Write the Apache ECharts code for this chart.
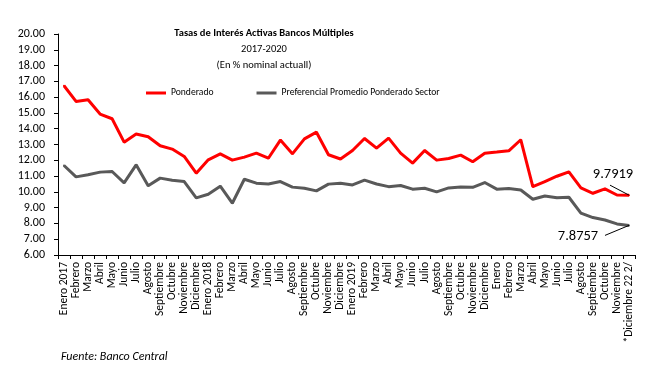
<!DOCTYPE html>
<html>
<head>
<meta charset="utf-8">
<script src="https://cdn.jsdelivr.net/npm/echarts@6/dist/echarts.min.js"></script>
<style>html,body{margin:0;padding:0;background:#fff;}#c{width:661px;height:374px;}</style>
</head>
<body>
<div id="c"></div>
<script>
const categories = [
  'Enero 2017','Febrero','Marzo','Abril','Mayo','Junio','Julio','Agosto','Septiembre','Octubre','Noviembre','Diciembre',
  'Enero 2018','Febrero','Marzo','Abril','Mayo','Junio','Julio','Agosto','Septiembre','Octubre','Noviembre','Diciembre',
  'Enero 2019','Febrero','Marzo','Abril','Mayo','Junio','Julio','Agosto','Septiembre','Octubre','Noviembre','Diciembre',
  'Enero','Febrero','Marzo','Abril','Mayo','Junio','Julio','Agosto','Septiembre','Octubre','Noviembre','*Diciembre 22 2/'
];
const ponderado = [
  16.72,15.73,15.83,14.93,14.63,13.15,13.66,13.49,12.92,12.71,12.24,11.18,
  12.03,12.41,12.01,12.20,12.45,12.13,13.28,12.41,13.36,13.78,12.35,12.08,
  12.62,13.38,12.77,13.40,12.45,11.82,12.62,12.01,12.11,12.33,11.91,12.45,
  12.52,12.60,13.30,10.33,10.65,10.99,11.27,10.25,9.91,10.19,9.80,9.7919
];
const preferencial = [
  11.67,10.95,11.08,11.25,11.29,10.57,11.71,10.38,10.87,10.74,10.65,9.62,
  9.85,10.36,9.28,10.80,10.55,10.50,10.65,10.30,10.23,10.06,10.49,10.55,
  10.44,10.74,10.50,10.33,10.40,10.17,10.23,10.00,10.25,10.30,10.29,10.59,
  10.17,10.21,10.12,9.53,9.74,9.62,9.66,8.65,8.37,8.22,7.97,7.8757
];
const yTicks = {min: 6, max: 20, step: 1};

const FONT = 'Carlito, "Liberation Sans", sans-serif';
const chart = echarts.init(document.getElementById('c'));
const lastIdx = categories.length - 1;

function lastLabel(arr, pos) {
  return arr.map((v, i) => i === lastIdx ? {
    value: v,
    label: {show: true, position: pos, distance: 5, formatter: String(v), fontFamily: FONT, fontSize: 14.5, color: '#000'}
  } : v);
}

// leader line from the last point of each series toward its label (offsets are styling)
function leader(value, ox, oy) {
  return {
    type: 'custom', silent: true, z: 5,
    data: [[lastIdx, value]],
    renderItem: (params, api) => {
      const p = api.coord([api.value(0), api.value(1)]);
      return {
        type: 'line',
        shape: {x1: p[0], y1: p[1], x2: p[0] + ox, y2: p[1] + oy},
        style: {stroke: '#000', lineWidth: 1}
      };
    }
  };
}

chart.setOption({
  animation: false,
  backgroundColor: '#fff',
  textStyle: {fontFamily: FONT},
  title: [
    {
      text: 'Tasas de Interés Activas Bancos Múltiples',
      subtext: '2017-2020\n(En % nominal actuall)',
      left: 264, top: 25, textAlign: 'center',
      itemGap: 0, padding: 0,
      textStyle: {fontFamily: FONT, fontSize: 10.5, fontWeight: 'bold', color: '#000', lineHeight: 16},
      subtextStyle: {fontFamily: FONT, fontSize: 10.5, color: '#000', lineHeight: 16}
    },
    {
      text: 'Fuente: Banco Central',
      left: 61, top: 351, padding: 0,
      textStyle: {fontFamily: FONT, fontSize: 12, fontStyle: 'italic', fontWeight: 'normal', color: '#000'}
    }
  ],
  legend: {
    left: 146, top: 88, padding: 0,
    itemWidth: 20, itemHeight: 3, itemGap: 43,
    icon: 'rect',
    textStyle: {fontFamily: FONT, fontSize: 9.6, color: '#000'},
    data: ['Ponderado', 'Preferencial Promedio Ponderado Sector']
  },
  grid: {left: 58, right: 26, top: 34, bottom: 119, containLabel: false},
  xAxis: {
    type: 'category',
    data: categories,
    boundaryGap: true,
    axisLine: {lineStyle: {color: '#000', width: 1}},
    axisTick: {show: true, inside: false, length: 4, alignWithLabel: false, lineStyle: {color: '#000'}},
    axisLabel: {rotate: 90, interval: 0, fontFamily: FONT, fontSize: 11.5, color: '#000', margin: 7}
  },
  yAxis: {
    type: 'value',
    min: yTicks.min, max: yTicks.max, interval: yTicks.step,
    axisLine: {show: true, lineStyle: {color: '#000', width: 1}},
    axisTick: {show: true, inside: false, length: 4, lineStyle: {color: '#000'}},
    splitLine: {show: false},
    axisLabel: {formatter: v => v.toFixed(2), fontFamily: FONT, fontSize: 12, color: '#000', margin: 13}
  },
  series: [
    {
      name: 'Ponderado', type: 'line',
      data: lastLabel(ponderado, 'top'),
      symbol: 'circle', symbolSize: 2, showSymbol: true, showAllSymbol: true,
      color: '#ff0000', itemStyle: {color: '#ff0000'},
      lineStyle: {width: 3, color: '#ff0000'},
      labelLayout: p => p.dataIndex === lastIdx ? {dx: -16, dy: -7} : {}
    },
    {
      name: 'Preferencial Promedio Ponderado Sector', type: 'line',
      data: lastLabel(preferencial, 'bottom'),
      symbol: 'circle', symbolSize: 2, showSymbol: true, showAllSymbol: true,
      color: '#595959', itemStyle: {color: '#595959'},
      lineStyle: {width: 3, color: '#595959'},
      labelLayout: p => p.dataIndex === lastIdx ? {dx: -51, dy: -3} : {}
    },
    leader(ponderado[lastIdx], -19, -10),
    leader(preferencial[lastIdx], -24, 10)
  ]
});
</script>
</body>
</html>
